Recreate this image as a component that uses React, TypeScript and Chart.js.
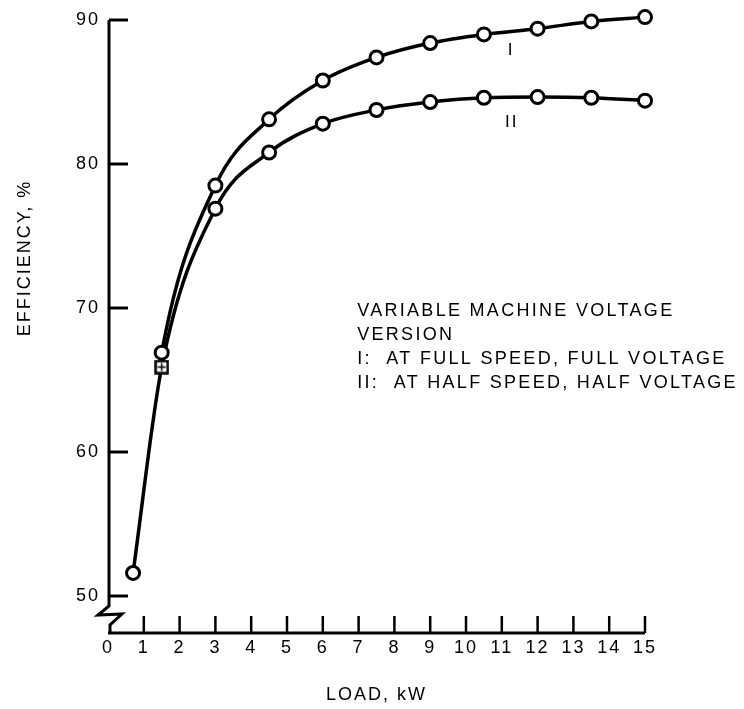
import React, { useEffect, useRef } from 'react';
import { Chart, registerables } from 'chart.js';

Chart.register(...registerables);

// ---- data ----
// Both curves start from the common low-load point (0.7 kW, 51.6 %)
const loadI = [0.7, 1.5, 3, 4.5, 6, 7.5, 9, 10.5, 12, 13.5, 15];
const effI = [51.6, 66.9, 78.5, 83.1, 85.8, 87.4, 88.4, 89.0, 89.4, 89.9, 90.2];

const loadII = [0.7, 1.5, 3, 4.5, 6, 7.5, 9, 10.5, 12, 13.5, 15];
const effII = [51.6, 65.9, 76.9, 80.8, 82.8, 83.75, 84.3, 84.6, 84.65, 84.6, 84.4];

const xTickValues = [0, 1, 2, 3, 4, 5, 6, 7, 8, 9, 10, 11, 12, 13, 14, 15];
const yTickValues = [50, 60, 70, 80, 90];

const xTitle = 'LOAD, kW';
const yTitle = 'EFFICIENCY, %';
const noteLines = [
  'VARIABLE MACHINE VOLTAGE',
  'VERSION',
  'I:  AT FULL SPEED, FULL VOLTAGE',
  'II:  AT HALF SPEED, HALF VOLTAGE',
];
const curveLabels = ['I', 'II'];

const FONT = '"Liberation Sans", Arial, Helvetica, sans-serif';

function makeSquareMarker(): HTMLCanvasElement {
  const c = document.createElement('canvas');
  c.width = 15;
  c.height = 15;
  const g = c.getContext('2d')!;
  g.fillStyle = '#fff';
  g.fillRect(1, 1, 13, 13);
  g.strokeStyle = '#000';
  g.lineWidth = 2.5;
  g.strokeRect(1.5, 1.5, 12, 12);
  g.lineWidth = 1.5;
  g.beginPath();
  g.moveTo(7.5, 3.5);
  g.lineTo(7.5, 11.5);
  g.moveTo(3.5, 7.5);
  g.lineTo(11.5, 7.5);
  g.stroke();
  return c;
}

const decorPlugin = {
  id: 'decor',
  beforeDraw(chart: any) {
    const { ctx, width, height } = chart;
    ctx.save();
    ctx.fillStyle = '#fff';
    ctx.fillRect(0, 0, width, height);
    ctx.restore();
    ctx.letterSpacing = '2px';
  },
  afterDraw(chart: any) {
    const { ctx, chartArea: ca, scales } = chart;
    const xs = scales.x;
    const ys = scales.y;
    ctx.save();
    ctx.letterSpacing = '0px';
    ctx.strokeStyle = '#000';
    ctx.lineCap = 'butt';
    ctx.lineJoin = 'miter';

    // x axis line
    ctx.lineWidth = 3;
    ctx.beginPath();
    ctx.moveTo(ca.left, ca.bottom);
    ctx.lineTo(ca.right, ca.bottom);
    ctx.stroke();

    // y axis line with break symbol
    const L = ca.left + 1;
    const yTop = ys.getPixelForValue(yTickValues[yTickValues.length - 1]);
    const b = ca.bottom;
    ctx.beginPath();
    ctx.moveTo(L, yTop);
    ctx.lineTo(L, b - 27);
    ctx.lineTo(L - 11, b - 18);
    ctx.lineTo(L + 13, b - 19);
    ctx.lineTo(L + 1, b - 8);
    ctx.lineTo(L + 1, b);
    ctx.stroke();

    // inward y ticks
    ctx.lineWidth = 3;
    for (const v of yTickValues) {
      const py = ys.getPixelForValue(v);
      ctx.beginPath();
      ctx.moveTo(L, py);
      ctx.lineTo(L + 19, py);
      ctx.stroke();
    }
    // inward x ticks
    ctx.lineWidth = 2.5;
    for (const v of xTickValues) {
      if (v === 0) continue;
      const px = xs.getPixelForValue(v);
      ctx.beginPath();
      ctx.moveTo(px, b);
      ctx.lineTo(px, b - 17);
      ctx.stroke();
    }

    // texts
    ctx.fillStyle = '#000';
    ctx.font = `18px ${FONT}`;
    ctx.letterSpacing = '2px';
    ctx.textBaseline = 'middle';

    // axis titles
    ctx.textAlign = 'center';
    ctx.fillText(xTitle, (ca.left + ca.right) / 2, 695);
    ctx.save();
    ctx.translate(25, 258);
    ctx.rotate(-Math.PI / 2);
    ctx.fillText(yTitle, 0, 0);
    ctx.restore();

    // curve labels
    ctx.font = `17px ${FONT}`;
    ctx.fillText(curveLabels[0], xs.getPixelForValue(11.26), ys.getPixelForValue(87.9));
    ctx.fillText(curveLabels[1], xs.getPixelForValue(11.28), ys.getPixelForValue(82.9));

    // note block
    ctx.font = `18px ${FONT}`;
    ctx.letterSpacing = '2.3px';
    ctx.textAlign = 'left';
    const nx = xs.getPixelForValue(6.96);
    const ny = ys.getPixelForValue(69.8);
    noteLines.forEach((t, i) => {
      ctx.fillText(t, nx, ny + i * 24);
    });

    ctx.restore();
  },
};

export default function App() {
  const canvasRef = useRef<HTMLCanvasElement | null>(null);

  useEffect(() => {
    const canvas = canvasRef.current;
    if (!canvas) return;
    const square = makeSquareMarker();

    const pointsI = loadI.map((x, i) => ({ x, y: effI[i] }));
    const pointsII = loadII.map((x, i) => ({ x, y: effII[i] }));
    const stylesII = loadII.map((_, i) => (i === 1 ? square : 'circle'));
    // first point of curve I is the shared start, drawn by curve II
    const radiiI = loadI.map((_, i) => (i === 0 ? 0 : 6.5));

    const common = {
      borderColor: '#000',
      borderWidth: 3.5,
      pointBorderWidth: 3,
      pointBackgroundColor: '#fff',
      pointBorderColor: '#000',
      cubicInterpolationMode: 'monotone',
      clip: false,
    };

    const chart = new Chart(canvas, {
      type: 'line',
      data: {
        datasets: [
          {
            ...common,
            label: 'I',
            data: pointsI,
            pointRadius: radiiI,
            segment: {
              borderColor: (c: any) => (c.p0DataIndex === 0 ? 'rgba(0,0,0,0)' : '#000'),
            },
          } as any,
          {
            ...common,
            label: 'II',
            data: pointsII,
            pointRadius: 6.5,
            pointStyle: stylesII,
          } as any,
        ],
      },
      options: {
        animation: false,
        responsive: false,
        devicePixelRatio: 1,
        layout: { padding: { left: 0, top: 20, right: 99, bottom: 0 } },
        plugins: {
          legend: { display: false },
          tooltip: { enabled: false },
        },
        scales: {
          x: {
            type: 'linear',
            min: 0,
            max: 15,
            afterBuildTicks: (s: any) => {
              s.ticks = xTickValues.map((v) => ({ value: v }));
            },
            afterFit: (s: any) => {
              s.height = 76;
            },
            grid: { display: false, drawTicks: false, tickLength: 0 },
            border: { display: false },
            ticks: {
              autoSkip: false,
              maxRotation: 0,
              padding: 4,
              color: '#000',
              font: { family: FONT, size: 18 },
            },
          },
          y: {
            type: 'linear',
            min: 47.43,
            max: 90,
            afterBuildTicks: (s: any) => {
              s.ticks = yTickValues.map((v) => ({ value: v }));
            },
            afterFit: (s: any) => {
              s.width = 108;
            },
            grid: { display: false, drawTicks: false, tickLength: 0 },
            border: { display: false },
            ticks: {
              padding: 8,
              color: '#000',
              font: { family: FONT, size: 18 },
            },
          },
        },
      },
      plugins: [decorPlugin],
    } as any);

    return () => {
      chart.destroy();
    };
  }, []);

  return (
    <div style={{ position: 'fixed', left: 0, top: 0, width: 744, height: 709, background: '#fff' }}>
      <canvas ref={canvasRef} width={744} height={709} style={{ display: 'block', width: 744, height: 709 }} />
    </div>
  );
}
